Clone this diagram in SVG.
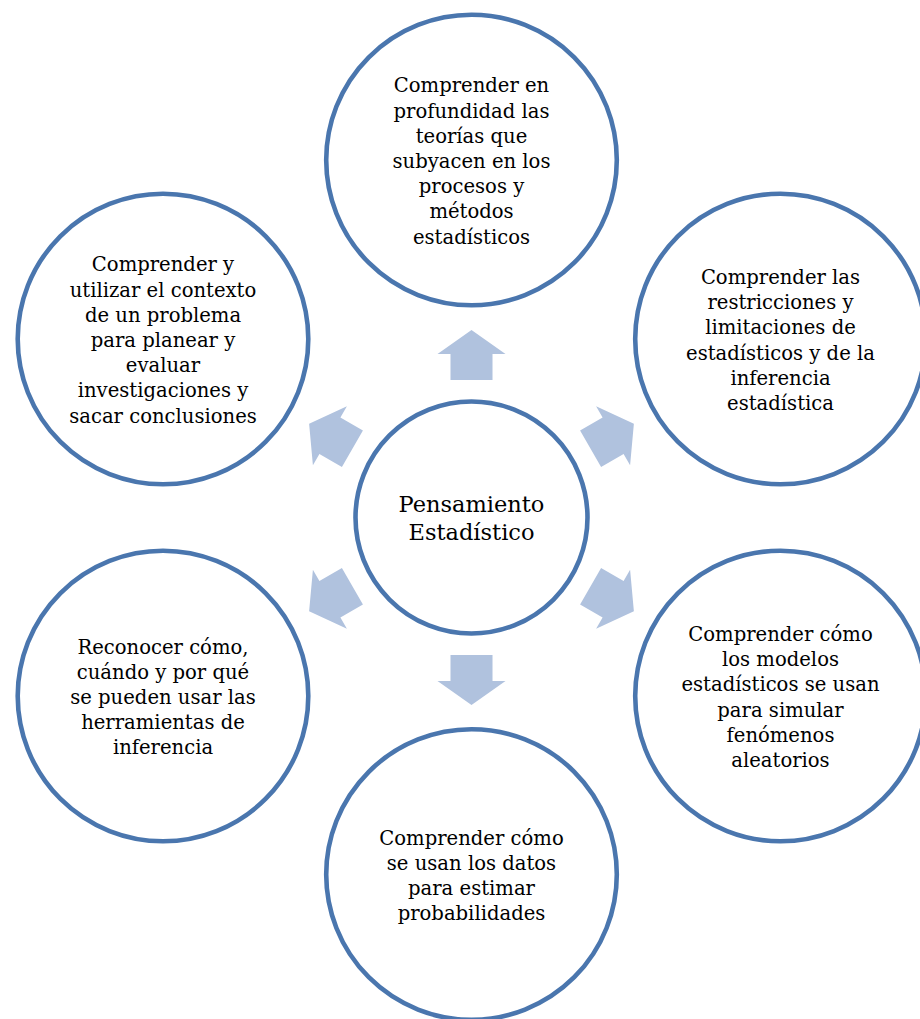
<svg xmlns="http://www.w3.org/2000/svg" xmlns:xlink="http://www.w3.org/1999/xlink" width="920" height="1019" viewBox="0 0 920 1019">
  <style>
    .ring { fill: #ffffff; stroke: #4a76ae; stroke-width: 4.6; }
    .arrow { fill: #b0c2de; }
    .label { font-family: "DejaVu Serif", "Liberation Serif", serif; font-size: 19.6px; fill: #000000; text-anchor: middle; }
    .hub { font-size: 22.5px; }
  </style>
  <defs>
    <!-- block arrow pointing up, placed relative to the hub centre -->
    <path id="arrow" class="arrow" d="M0,-187.5 L34,-163.5 L21,-163.5 L21,-137.5 L-21,-137.5 L-21,-163.5 L-34,-163.5 Z"/>
  </defs>

  <rect width="920" height="1019" fill="#ffffff"/>

  <!-- arrows radiating from the hub -->
  <g id="connectors" transform="translate(471.5,517.5)">
    <use xlink:href="#arrow" href="#arrow"/>
    <use xlink:href="#arrow" href="#arrow" transform="rotate(60)"/>
    <use xlink:href="#arrow" href="#arrow" transform="rotate(120)"/>
    <use xlink:href="#arrow" href="#arrow" transform="rotate(180)"/>
    <use xlink:href="#arrow" href="#arrow" transform="rotate(240)"/>
    <use xlink:href="#arrow" href="#arrow" transform="rotate(300)"/>
  </g>

  <g id="hub">
    <circle class="ring" cx="471.5" cy="517.5" r="116"/>
    <text class="label hub"><tspan x="471.5" y="512">Pensamiento</tspan><tspan x="471.5" y="539.5">Estadístico</tspan></text>
  </g>

  <g id="node-top">
    <circle class="ring" cx="471.5" cy="160" r="145.3"/>
    <text class="label"><tspan x="471.5" y="92.4">Comprender en</tspan><tspan x="471.5" y="117.6">profundidad las</tspan><tspan x="471.5" y="142.8">teorías que</tspan><tspan x="471.5" y="168">subyacen en los</tspan><tspan x="471.5" y="193.2">procesos y</tspan><tspan x="471.5" y="218.4">métodos</tspan><tspan x="471.5" y="243.6">estadísticos</tspan></text>
  </g>

  <g id="node-upper-right">
    <circle class="ring" cx="780.5" cy="339" r="145.3"/>
    <text class="label"><tspan x="780.5" y="284">Comprender las</tspan><tspan x="780.5" y="309.2">restricciones y</tspan><tspan x="780.5" y="334.4">limitaciones de</tspan><tspan x="780.5" y="359.6">estadísticos y de la</tspan><tspan x="780.5" y="384.8">inferencia</tspan><tspan x="780.5" y="410">estadística</tspan></text>
  </g>

  <g id="node-lower-right">
    <circle class="ring" cx="780.5" cy="696" r="145.3"/>
    <text class="label"><tspan x="780.5" y="641">Comprender cómo</tspan><tspan x="780.5" y="666.2">los modelos</tspan><tspan x="780.5" y="691.4">estadísticos se usan</tspan><tspan x="780.5" y="716.6">para simular</tspan><tspan x="780.5" y="741.8">fenómenos</tspan><tspan x="780.5" y="767">aleatorios</tspan></text>
  </g>

  <g id="node-bottom">
    <circle class="ring" cx="471.5" cy="874.5" r="145.3"/>
    <text class="label"><tspan x="471.5" y="844.7">Comprender cómo</tspan><tspan x="471.5" y="869.9">se usan los datos</tspan><tspan x="471.5" y="895.1">para estimar</tspan><tspan x="471.5" y="920.3">probabilidades</tspan></text>
  </g>

  <g id="node-lower-left">
    <circle class="ring" cx="163" cy="696" r="145.3"/>
    <text class="label"><tspan x="163" y="653.6">Reconocer cómo,</tspan><tspan x="163" y="678.8">cuándo y por qué</tspan><tspan x="163" y="704">se pueden usar las</tspan><tspan x="163" y="729.2">herramientas de</tspan><tspan x="163" y="754.4">inferencia</tspan></text>
  </g>

  <g id="node-upper-left">
    <circle class="ring" cx="163" cy="339" r="145.3"/>
    <text class="label"><tspan x="163" y="271.4">Comprender y</tspan><tspan x="163" y="296.6">utilizar el contexto</tspan><tspan x="163" y="321.8">de un problema</tspan><tspan x="163" y="347">para planear y</tspan><tspan x="163" y="372.2">evaluar</tspan><tspan x="163" y="397.4">investigaciones y</tspan><tspan x="163" y="422.6">sacar conclusiones</tspan></text>
  </g>
</svg>
